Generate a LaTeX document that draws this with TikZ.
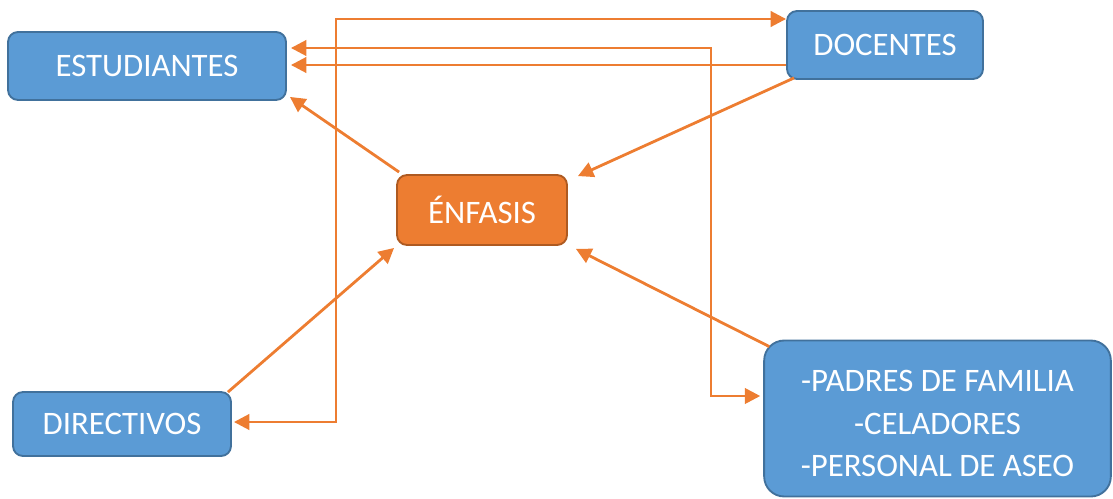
\documentclass[tikz,border=0pt]{standalone}
\usepackage{fontspec}
\setmainfont{Carlito}
\usetikzlibrary{arrows.meta,calc}
\definecolor{boxblue}{HTML}{5B9BD5}
\definecolor{boxblueedge}{HTML}{41719C}
\definecolor{accent}{HTML}{ED7D31}
\definecolor{accentedge}{HTML}{AE5A21}

\begin{document}
\begin{tikzpicture}[x=0.75pt,y=-0.75pt,
  label text/.style={text=white, font=\fontsize{24.6}{32}\selectfont},
  box/.style={rectangle, rounded corners=7.5pt, draw=boxblueedge, fill=boxblue,
    line width=1.4pt, inner sep=0pt, label text},
  hub/.style={box, draw=accentedge, fill=accent},
  conn/.style={draw=accent, line width=2.1pt,
    arrows={-Triangle[length=11.5pt,width=11.5pt]}},
  both/.style={conn, arrows={Triangle[length=11.5pt,width=11.5pt]-Triangle[length=11.5pt,width=11.5pt]}}]

  \useasboundingbox (0,0) rectangle (1113,499);

  % boxes
  \node[box, minimum width=208.5pt, minimum height=51pt] (EST) at (147,66) {ESTUDIANTES};
  \node[box, minimum width=147pt, minimum height=51pt] (DOC) at (885,45) {DOCENTES};
  \node[hub, minimum width=127.5pt, minimum height=52.5pt] (ENF) at (482,210) {ÉNFASIS};
  \node[box, minimum width=163.5pt, minimum height=48pt] (DIR) at (122,424) {DIRECTIVOS};
  \node[box, rounded corners=15pt, minimum width=260pt, minimum height=117pt]
        (PAD) at (937.5,418.5) {};
  \node[label text, align=center, inner sep=0pt] (PADtext) at ($(PAD.center)+(0,5)$)
        {-PADRES DE FAMILIA\\-CELADORES\\-PERSONAL DE ASEO};

  % bends of the elbow connectors
  \coordinate (b1) at (336,19);
  \coordinate (b2) at (336,422);
  \coordinate (b3) at (711,48);
  \coordinate (b4) at (711,396);

  % elbow connectors
  \draw[both] ($(DOC.west)+(0,-26)$) -- (b1) -- (b2) -- ($(DIR.east)+(2,-2)$);
  \draw[both, shorten <=3pt] ($(EST.east)+(0,-18)$) -- (b3) -- (b4) -- ($(PAD.west)+(-3,-22.5)$);
  \draw[conn, shorten >=3pt] ($(DOC.west)+(0,20)$) -- ($(EST.east)+(0,-1)$);

  % straight connectors
  \draw[conn] ($(ENF.north west)+(3,-2)$) -- ($(EST.south east)+(3,-4)$);
  \draw[conn] ($(DOC.south west)+(8,-2)$) -- ($(ENF.north east)+(10,2)$);
  \draw[conn] ($(DIR.north east)+(-4,1)$) -- ($(ENF.south west)+(-2,2)$);
  \draw[conn] ($(PAD.north west)+(6,7)$) -- ($(ENF.south east)+(8,3)$);
\end{tikzpicture}
\end{document}
